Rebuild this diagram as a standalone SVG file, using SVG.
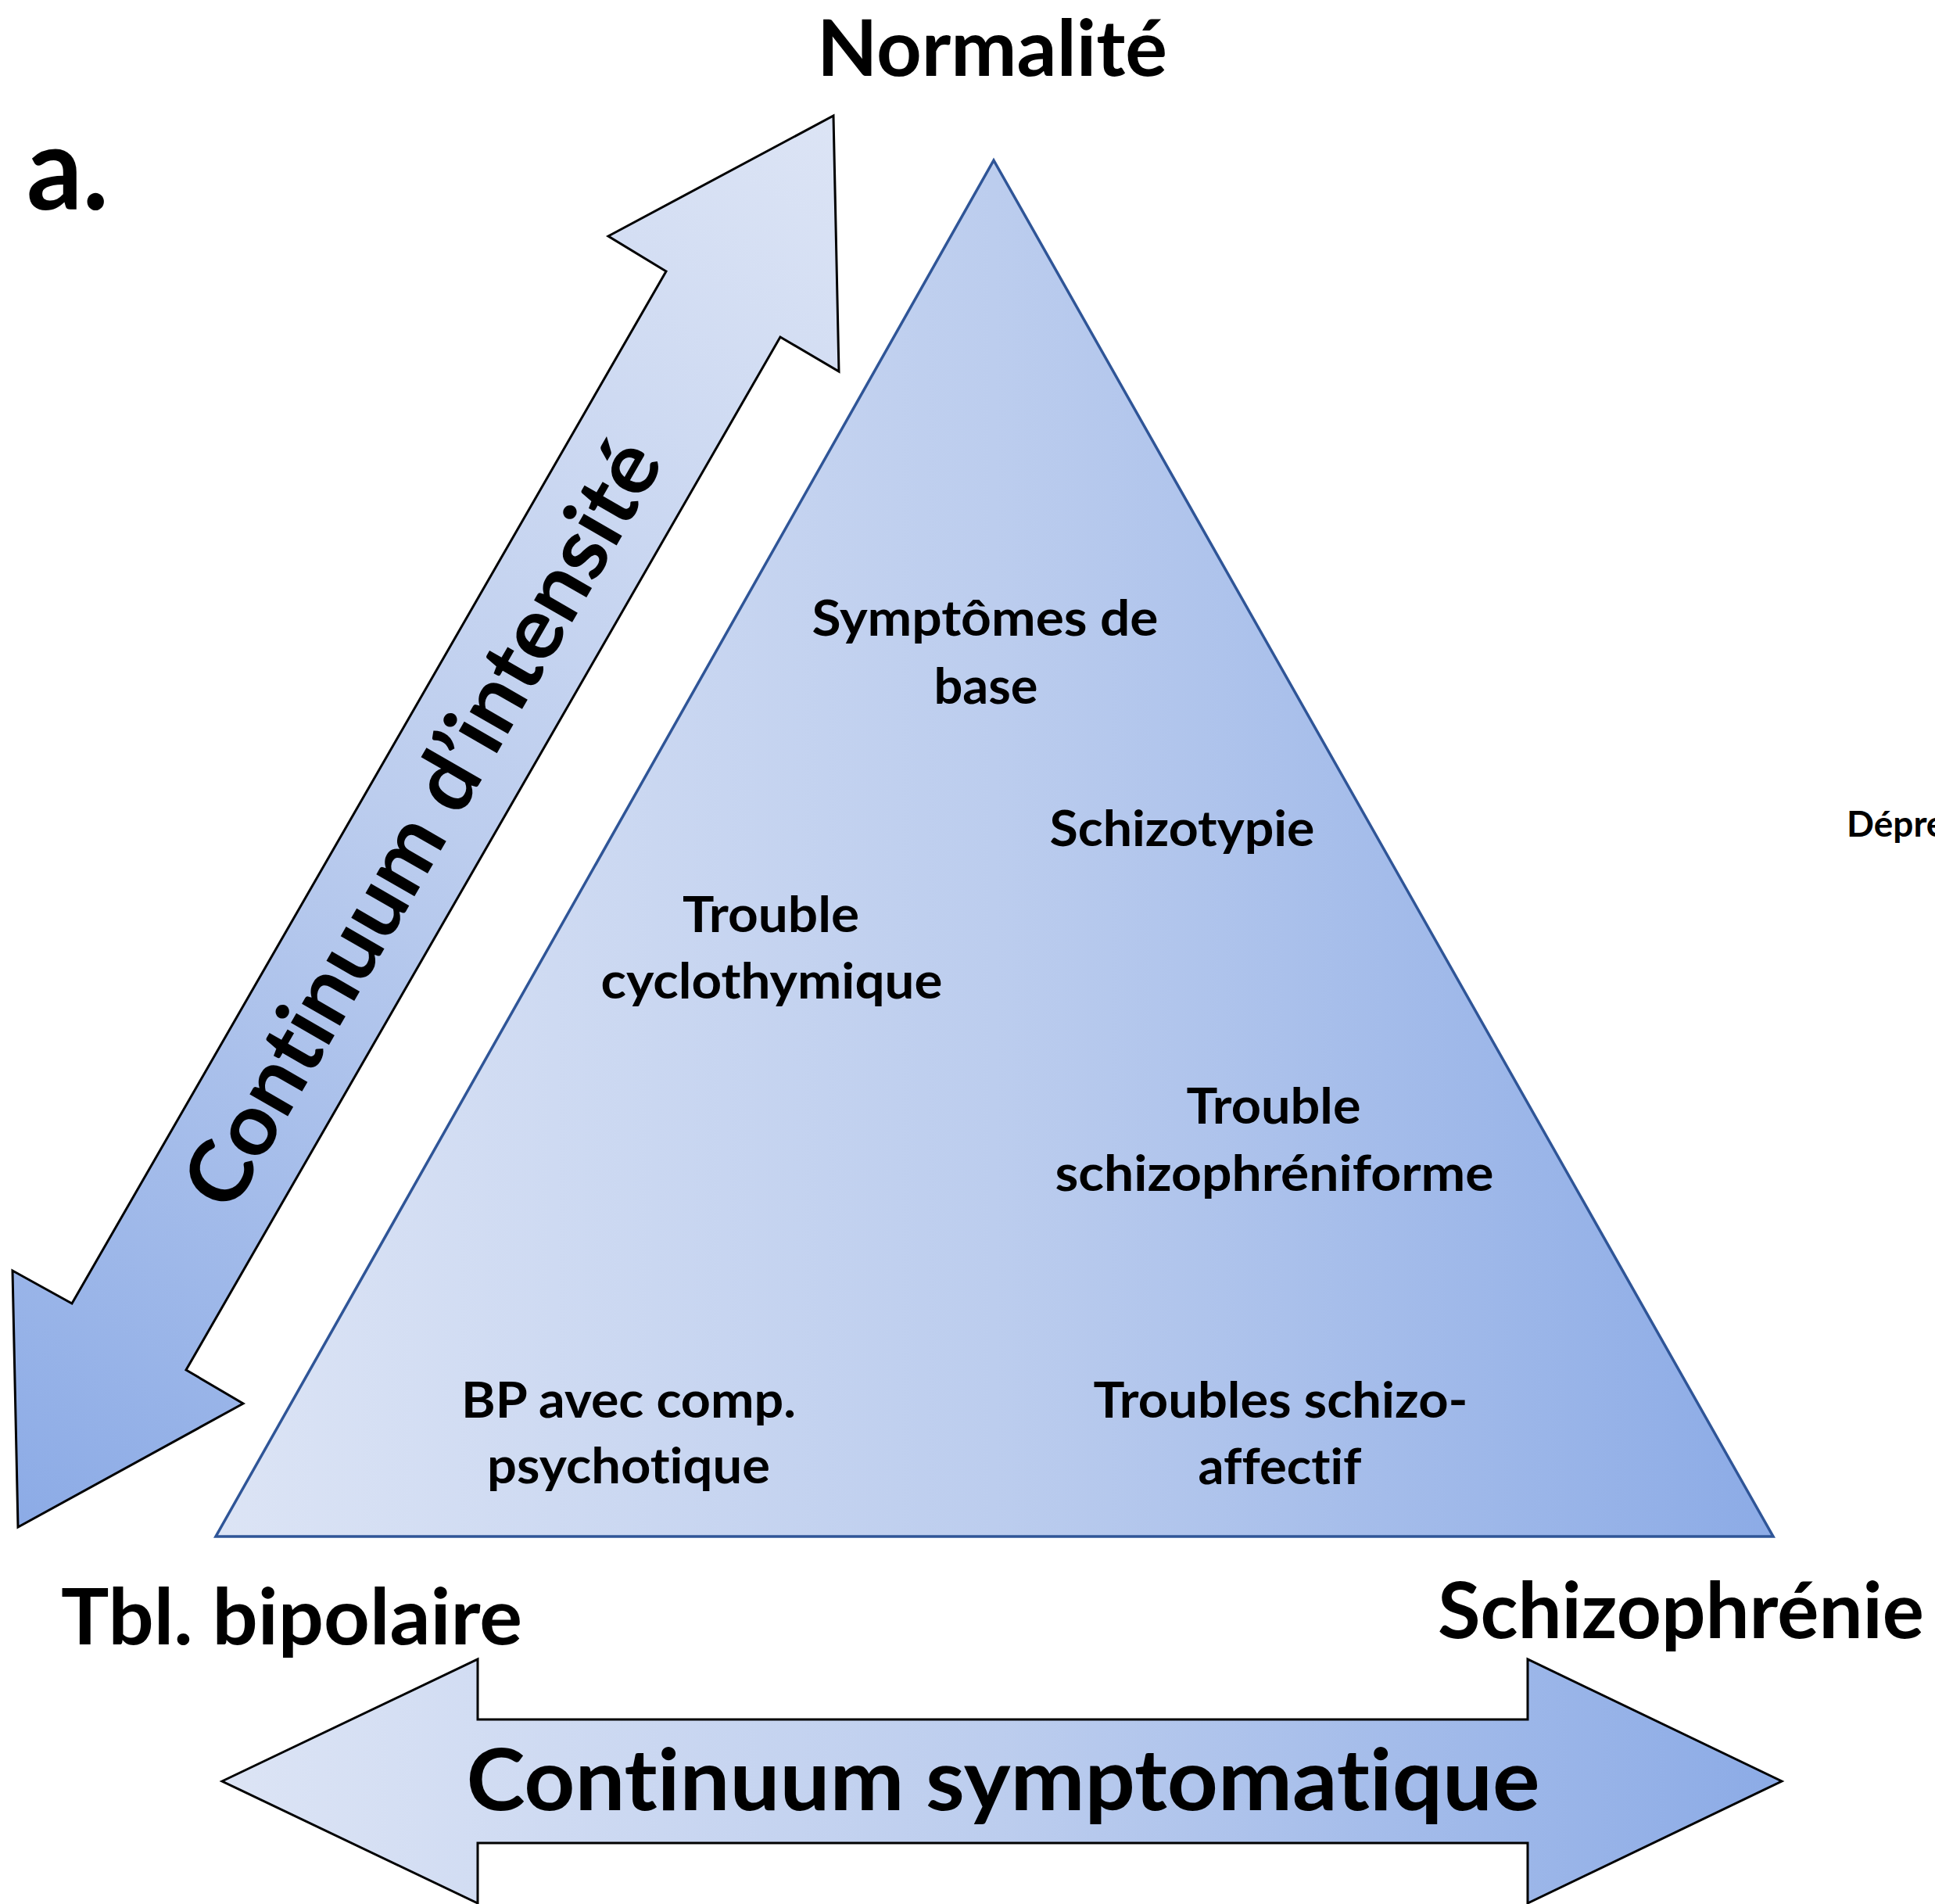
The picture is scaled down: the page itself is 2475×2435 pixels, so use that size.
<svg xmlns="http://www.w3.org/2000/svg" width="2475" height="2435" viewBox="0 0 2475 2435">
  <defs>
    <linearGradient id="gTri" gradientUnits="userSpaceOnUse" x1="276" y1="0" x2="2268" y2="0">
      <stop offset="0" stop-color="#dce4f5"/>
      <stop offset="0.5" stop-color="#bccdee"/>
      <stop offset="1" stop-color="#8cabe6"/>
    </linearGradient>
    <linearGradient id="gDiag" gradientUnits="userSpaceOnUse" x1="1066" y1="148" x2="23" y2="1953">
      <stop offset="0" stop-color="#dce4f5"/>
      <stop offset="0.5" stop-color="#bccdee"/>
      <stop offset="1" stop-color="#8cabe6"/>
    </linearGradient>
    <linearGradient id="gHor" gradientUnits="userSpaceOnUse" x1="284" y1="0" x2="2279" y2="0">
      <stop offset="0" stop-color="#dce4f5"/>
      <stop offset="0.5" stop-color="#bccdee"/>
      <stop offset="1" stop-color="#8cabe6"/>
    </linearGradient>
  </defs>
  <style>
    text { font-family: "Lato", "Open Sans", "Liberation Sans", sans-serif; font-weight: bold; fill: #000; font-variant-ligatures: none; }
    .big { font-size: 99px; }
    .huge { font-size: 110px; }
    .inner { font-size: 64px; text-anchor: middle; }
    .arrow { stroke: #000; stroke-width: 3; stroke-linejoin: miter; }
  </style>
  <rect x="0" y="0" width="2475" height="2435" fill="#ffffff"/>

  <g id="label-a">
    <text x="34" y="268" style="font-size:148px" textLength="105" lengthAdjust="spacingAndGlyphs">a.</text>
  </g>

  <g id="triangle">
    <polygon points="1271,205 2268,1965 276,1965" fill="url(#gTri)" stroke="#2f5597" stroke-width="3.5" stroke-linejoin="miter"/>
  </g>

  <g id="connectors">
    <g id="arrow-intensite">
      <polygon class="arrow" fill="url(#gDiag)" points="1066,148 1073,475 998,431 238,1752 311,1795 23,1953 16,1625 92,1667 852,347 778,302"/>
      <text class="huge" transform="translate(573,1072) rotate(-60.07)" text-anchor="middle" textLength="1111" lengthAdjust="spacingAndGlyphs">Continuum d’intensité</text>
    </g>
    <g id="arrow-symptomatique">
      <polygon class="arrow" fill="url(#gHor)" points="284,2278 611,2122 611,2199 1954,2199 1954,2122 2279,2278 1954,2434 1954,2357 611,2357 611,2434"/>
      <text class="huge" x="1283" y="2315" text-anchor="middle" textLength="1373" lengthAdjust="spacingAndGlyphs">Continuum symptomatique</text>
    </g>
  </g>

  <g id="label-normalite">
    <text class="big" x="1269" y="97" text-anchor="middle" textLength="448" lengthAdjust="spacingAndGlyphs">Normalité</text>
  </g>
  <g id="label-bipolaire">
    <text class="big" x="78" y="2103" textLength="590" lengthAdjust="spacingAndGlyphs">Tbl. bipolaire</text>
  </g>
  <g id="label-schizophrenie">
    <text class="big" x="2150" y="2095" text-anchor="middle" textLength="622" lengthAdjust="spacingAndGlyphs">Schizophrénie</text>
  </g>
  <g id="label-depression">
    <text x="2362" y="1070" style="font-size:46px">Dépression</text>
  </g>

  <g id="node-symptomes-de-base">
    <text class="inner" x="1260" y="813" textLength="443" lengthAdjust="spacingAndGlyphs">Symptômes de</text>
    <text class="inner" x="1261" y="900" textLength="133" lengthAdjust="spacingAndGlyphs">base</text>
  </g>
  <g id="node-schizotypie">
    <text class="inner" x="1512" y="1082" textLength="339" lengthAdjust="spacingAndGlyphs">Schizotypie</text>
  </g>
  <g id="node-cyclothymique">
    <text class="inner" x="986" y="1192" textLength="226" lengthAdjust="spacingAndGlyphs">Trouble</text>
    <text class="inner" x="987" y="1277" textLength="437" lengthAdjust="spacingAndGlyphs">cyclothymique</text>
  </g>
  <g id="node-schizophreniforme">
    <text class="inner" x="1629" y="1437" textLength="223" lengthAdjust="spacingAndGlyphs">Trouble</text>
    <text class="inner" x="1630" y="1523" textLength="561" lengthAdjust="spacingAndGlyphs">schizophréniforme</text>
  </g>
  <g id="node-bp-psychotique">
    <text class="inner" x="804" y="1813" textLength="428" lengthAdjust="spacingAndGlyphs">BP avec comp.</text>
    <text class="inner" x="804" y="1897" textLength="362" lengthAdjust="spacingAndGlyphs">psychotique</text>
  </g>
  <g id="node-schizo-affectif">
    <text class="inner" x="1638" y="1813" textLength="479" lengthAdjust="spacingAndGlyphs">Troubles schizo-</text>
    <text class="inner" x="1637" y="1898" textLength="209" lengthAdjust="spacingAndGlyphs">affectif</text>
  </g>
</svg>
